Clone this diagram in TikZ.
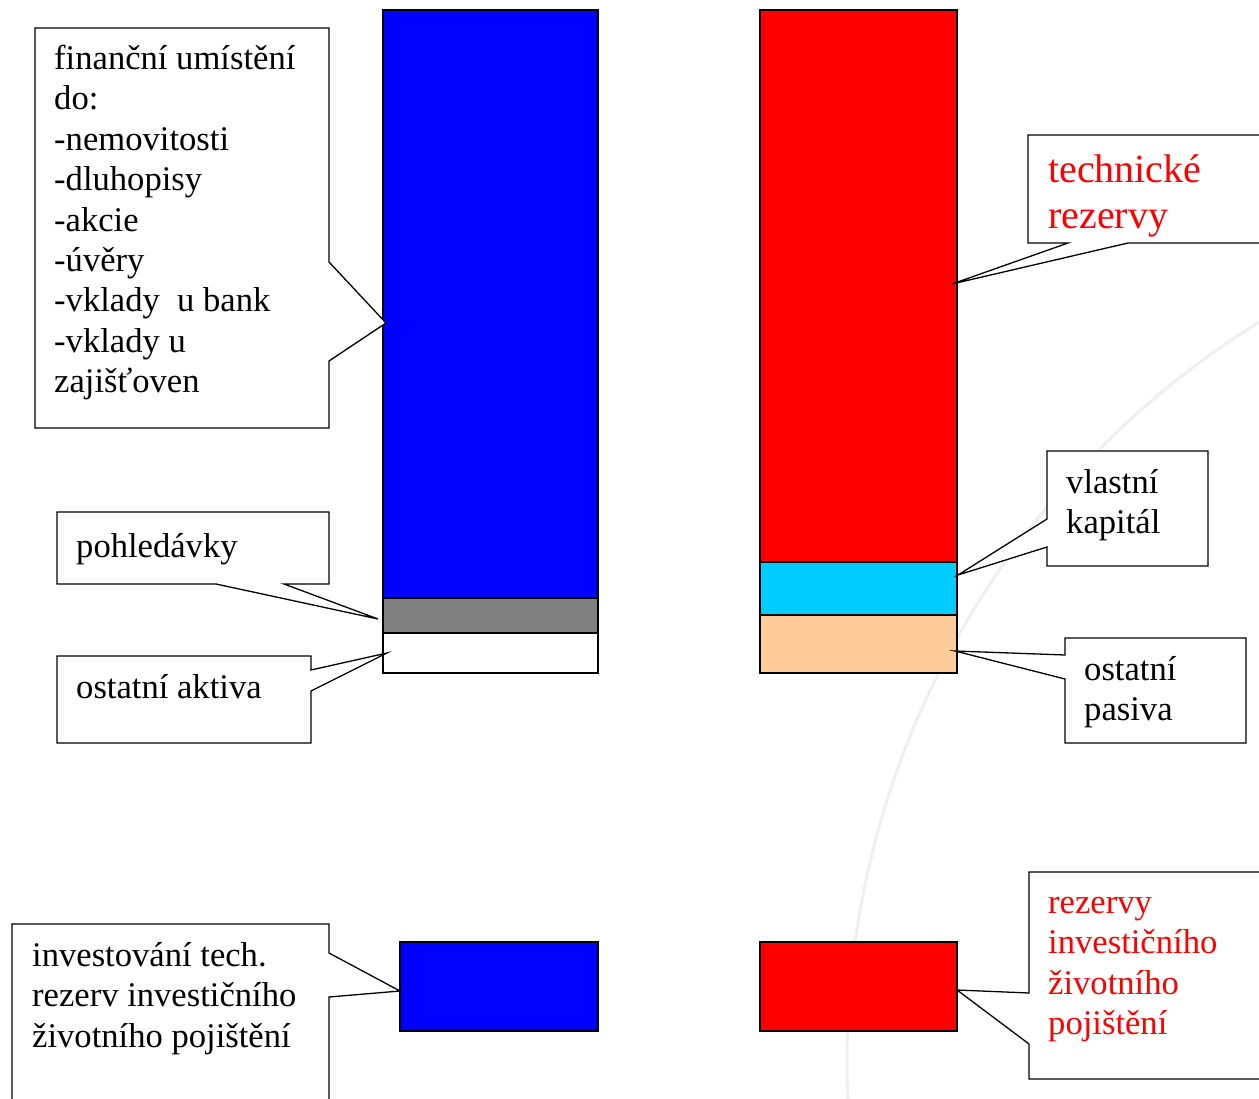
\documentclass[tikz,border=0pt]{standalone}
\usepackage{fontspec}
\setmainfont{Liberation Serif}
\definecolor{barblue}{HTML}{0000FF}
\definecolor{barred}{HTML}{FF0000}
\definecolor{bargray}{HTML}{808080}
\definecolor{barcyan}{HTML}{00CCFF}
\definecolor{barpeach}{HTML}{FFCC99}
\definecolor{faintarc}{HTML}{EFEFEF}
\begin{document}
\begin{tikzpicture}[x=1pt,y=-1pt,
  bar/.style={draw=black,line width=1.3pt},
  callout/.style={draw=black,fill=white,line width=1.3pt,line join=miter},
  label/.style={anchor=north west,inner sep=0pt,align=left,
    font=\fontsize{34.6}{40.4}\selectfont},
  biglabel/.style={label,font=\fontsize{40}{46}\selectfont},
]
\clip (0,0) rectangle (1259,1099);
\fill[white] (0,0) rectangle (1259,1099);

% faint background arc
\draw[faintarc,line width=3pt] (1717,1062) circle[radius=870pt];

% assets column
\draw[bar,fill=barblue] (383,10) rectangle (598,598);
\draw[bar,fill=bargray] (383,598) rectangle (598,633);
\draw[bar,fill=white]   (383,633) rectangle (598,673);
% liabilities column
\draw[bar,fill=barred]   (760,10)  rectangle (957,562);
\draw[bar,fill=barcyan]  (760,562) rectangle (957,615);
\draw[bar,fill=barpeach] (760,615) rectangle (957,673);
% unit-linked blocks
\draw[bar,fill=barblue] (400,942) rectangle (598,1031);
\draw[bar,fill=barred]  (760,942) rectangle (957,1031);

% callout frames
\draw[callout] (35,28) -- (329,28) -- (329,262) -- (386,323) -- (329,361)
  -- (329,428) -- (35,428) -- cycle;
\draw[callout] (57,512) -- (329,512) -- (329,584) -- (284,584) -- (378,619)
  -- (216,584) -- (57,584) -- cycle;
\draw[callout] (57,656) -- (311,656) -- (311,670) -- (387,653) -- (311,691)
  -- (311,743) -- (57,743) -- cycle;
\draw[callout] (1028,135) -- (1270,135) -- (1270,243) -- (1128,243)
  -- (952,284) -- (1068,243) -- (1028,243) -- cycle;
\draw[callout] (1047,451) -- (1208,451) -- (1208,566) -- (1047,566)
  -- (1047,547) -- (958,575) -- (1047,519) -- cycle;
\draw[callout] (1065,638) -- (1246,638) -- (1246,743) -- (1065,743)
  -- (1065,679) -- (955,651) -- (1065,655) -- cycle;
\draw[callout] (12,924) -- (329,924) -- (329,953) -- (400,991) -- (329,997)
  -- (329,1110) -- (12,1110) -- cycle;
\draw[callout] (1029,872) -- (1270,872) -- (1270,1079) -- (1029,1079)
  -- (1029,1044) -- (957,990) -- (1029,993) -- cycle;

% callout texts
\node[label] (fin) at (54,41) {\strut finanční umístění\\do:\\-nemovitosti\\-dluhopisy\\-akcie\\-úvěry\\-vklady~ u bank\\-vklady u\\zajišťoven};
\node[label] (pohl) at (76,529) {\strut pohledávky};
\node[label] (akt) at (76,670) {\strut ostatní aktiva};
\node[biglabel,text=barred] (tech) at (1048,150) {\strut technické\\rezervy};
\node[label] (kap) at (1066,465) {\strut vlastní\\kapitál};
\node[label] (pas) at (1084,652) {\strut ostatní\\pasiva};
\node[label] (inv) at (32,938) {\strut investování tech.\\rezerv investičního\\životního pojištění};
\node[label,text=barred] (rez) at (1048,885) {\strut rezervy\\investičního\\životního\\pojištění};
\end{tikzpicture}
\end{document}
